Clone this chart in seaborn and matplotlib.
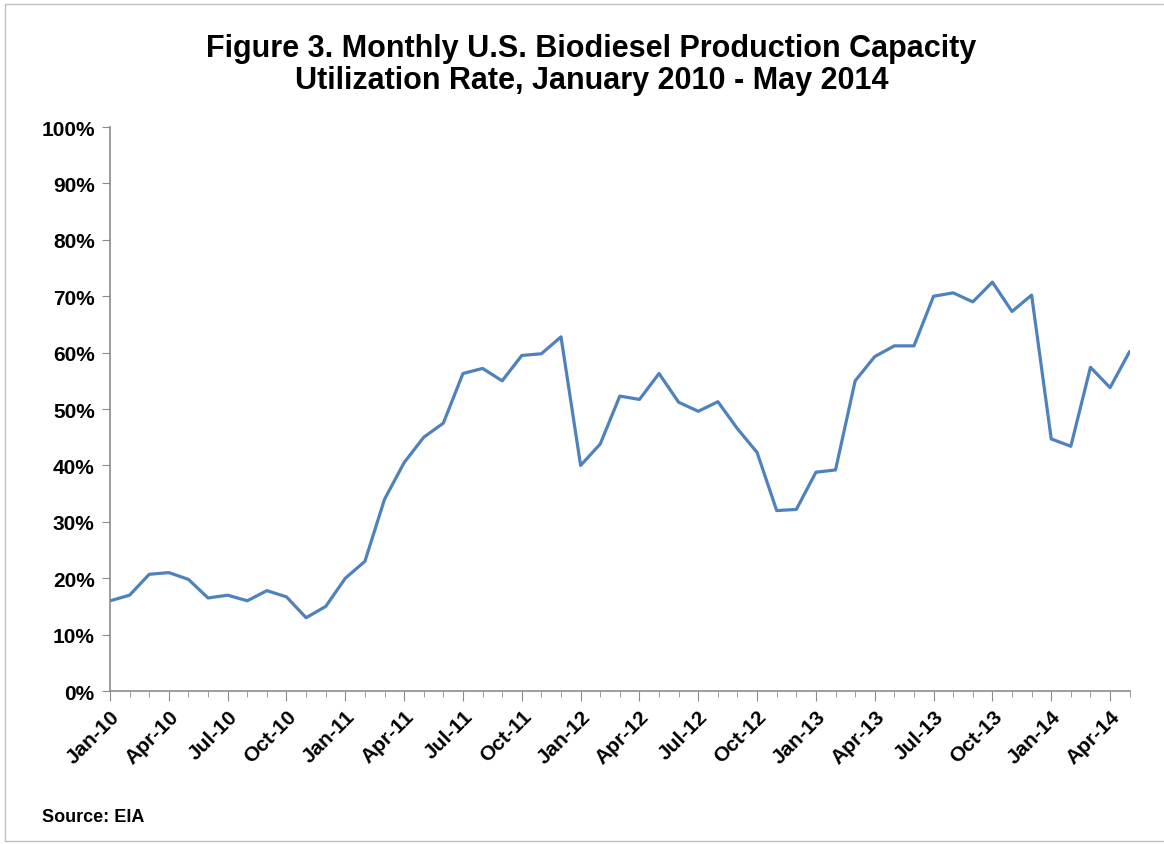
import numpy as np
import pandas as pd
import seaborn as sns
import matplotlib.pyplot as plt
from matplotlib.lines import Line2D

# monthly utilization rate (%), Jan-2010 .. May-2014
rate_2010 = [16.0, 17.0, 20.7, 21.0, 19.8, 16.5, 17.0, 16.0, 17.8, 16.7, 13.0, 15.0]
rate_2011 = [20.0, 23.0, 34.0, 40.5, 45.0, 47.5, 56.3, 57.2, 55.0, 59.5, 59.8, 62.8]
rate_2012 = [40.0, 43.8, 52.3, 51.7, 56.3, 51.2, 49.6, 51.3, 46.5, 42.3, 32.0, 32.2]
rate_2013 = [38.8, 39.2, 55.0, 59.3, 61.2, 61.2, 70.0, 70.6, 69.0, 72.5, 67.3, 70.2]
rate_2014 = [44.7, 43.4, 57.4, 53.8, 60.2]

tick_labels = ["Jan-10", "Apr-10", "Jul-10", "Oct-10",
               "Jan-11", "Apr-11", "Jul-11", "Oct-11",
               "Jan-12", "Apr-12", "Jul-12", "Oct-12",
               "Jan-13", "Apr-13", "Jul-13", "Oct-13",
               "Jan-14", "Apr-14"]

rates = rate_2010 + rate_2011 + rate_2012 + rate_2013 + rate_2014
df = pd.DataFrame({"month": np.arange(len(rates)), "rate": rates})

sns.set_style("white")
plt.rcParams["font.family"] = ["Liberation Sans", "DejaVu Sans"]
plt.rcParams["text.color"] = "black"
plt.rcParams["xtick.color"] = "black"
plt.rcParams["ytick.color"] = "black"

fig = plt.figure(figsize=(11.64, 8.45), dpi=100)
ax = fig.add_axes([0.0945, 0.181, 0.876, 0.6675])

sns.lineplot(data=df, x="month", y="rate", ax=ax, color="#4F81BD", linewidth=2.3)

ax.set_xlim(0, len(rates) - 1)
ax.set_ylim(0, 100)
ax.set_yticks(np.arange(0, 101, 10))
ax.set_yticklabels([f"{v}%" for v in range(0, 101, 10)], fontsize=15, fontweight="bold")
ax.set_xticks(np.arange(0, len(rates), 3))
ax.set_xticklabels(tick_labels, rotation=45, ha="right", rotation_mode="anchor",
                   fontsize=15, fontweight="bold")
ax.set_xticks(np.arange(0, len(rates)), minor=True)
ax.set_xlabel("")
ax.set_ylabel("")

for s in ["top", "right"]:
    ax.spines[s].set_visible(False)
for s in ["left", "bottom"]:
    ax.spines[s].set_color("#8C8C8C")
    ax.spines[s].set_linewidth(1.2)

ax.tick_params(axis="y", which="major", direction="out", length=6, color="#8C8C8C", left=True, pad=5)
ax.tick_params(axis="x", which="major", direction="out", length=7, color="#8C8C8C", bottom=True, pad=4)
ax.tick_params(axis="x", which="minor", direction="out", length=4, color="#8C8C8C", bottom=True)

fig.text(0.508, 0.923, "Figure 3. Monthly U.S. Biodiesel Production Capacity\nUtilization Rate, January 2010 - May 2014",
         ha="center", va="center", fontsize=22, fontweight="bold", linespacing=1.12)
fig.text(0.036, 0.032, "Source: EIA", ha="left", va="center", fontsize=13, fontweight="bold")

# light border (top, left, bottom) around the chart area
for xs, ys in [([0.004, 0.999], [0.994, 0.994]),
               ([0.004, 0.004], [0.003, 0.994]),
               ([0.004, 0.999], [0.003, 0.003])]:
    fig.lines.append(Line2D(xs, ys, transform=fig.transFigure, color="#BFBFBF", linewidth=1))

fig.savefig("out.png", dpi=100)
